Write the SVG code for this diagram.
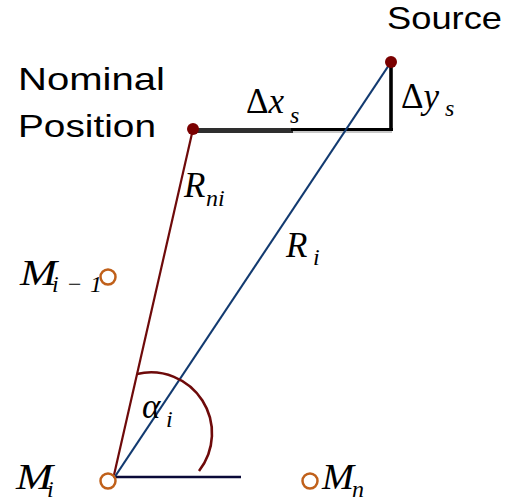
<svg xmlns="http://www.w3.org/2000/svg" width="506" height="502" viewBox="0 0 506 502">
<style>
.lbl{font-family:"Liberation Sans","DejaVu Sans",sans-serif;font-size:32px;fill:#000}
.m{font-family:"Liberation Serif","DejaVu Serif",serif;font-style:italic;font-size:35px;fill:#000}
.up{font-style:normal}
.sub{font-family:"Liberation Serif","DejaVu Serif",serif;font-style:italic;font-size:24px;fill:#000}
.pt{fill:#7a0000}
.obs{fill:none;stroke:#c0601a;stroke-width:2.5}
</style>
<rect width="506" height="502" fill="#fff"/>
<g id="connectors">
  <line x1="193" y1="130.5" x2="293" y2="130.5" stroke="#2e2e2e" stroke-width="5"/>
  <line x1="293" y1="132" x2="392" y2="132" stroke="#c8c8c8" stroke-width="2"/>
  <line x1="291" y1="129.5" x2="393" y2="129.5" stroke="#000" stroke-width="3.2"/>
  <line x1="391" y1="62" x2="391" y2="131" stroke="#000" stroke-width="3.6"/>
  <line x1="193" y1="129" x2="114" y2="475" stroke="#6e0a0a" stroke-width="2.2"/>
  <line x1="391" y1="62" x2="114" y2="478" stroke="#123a70" stroke-width="2.2"/>
  <line x1="116" y1="477" x2="241" y2="477" stroke="#0a0a38" stroke-width="2.4"/>
  <path d="M137,374 A61,61 0 0 1 199,471" fill="none" stroke="#6e0a0a" stroke-width="2.6"/>
</g>
<g id="source">
  <circle class="pt" cx="391" cy="62" r="6"/>
  <text class="lbl" x="387" y="29" textLength="115" lengthAdjust="spacingAndGlyphs">Source</text>
</g>
<g id="nominal">
  <circle class="pt" cx="193" cy="129" r="6"/>
  <text class="lbl" x="18" y="90" textLength="147" lengthAdjust="spacingAndGlyphs">Nominal</text>
  <text class="lbl" x="18" y="137" textLength="138" lengthAdjust="spacingAndGlyphs">Position</text>
</g>
<g id="dx">
  <text class="m" x="246" y="113"><tspan class="up">Δ</tspan>x</text>
  <text class="sub" x="290" y="123">s</text>
</g>
<g id="dy">
  <text class="m" x="401" y="108"><tspan class="up">Δ</tspan>y</text>
  <text class="sub" x="445" y="116">s</text>
</g>
<g id="rni">
  <text class="m" x="184" y="197">R</text>
  <text class="sub" x="206" y="206">ni</text>
</g>
<g id="ri">
  <text class="m" x="286" y="257">R</text>
  <text class="sub" x="313" y="265">i</text>
</g>
<g id="alpha">
  <text class="m" x="142" y="418">α</text>
  <text class="sub" x="166" y="427">i</text>
</g>
<g id="m-prev">
  <text class="m" x="20" y="285" textLength="37" lengthAdjust="spacingAndGlyphs">M</text>
  <text class="sub" x="52" y="292" textLength="50" lengthAdjust="spacing">i−1</text>
  <circle class="obs" cx="108" cy="277" r="7.5"/>
</g>
<g id="m-i">
  <text class="m" x="16" y="489" textLength="37" lengthAdjust="spacingAndGlyphs">M</text>
  <text class="sub" x="47" y="497">i</text>
  <circle class="obs" cx="108" cy="481" r="7.5"/>
</g>
<g id="m-n">
  <circle class="obs" cx="310" cy="481" r="7.5"/>
  <text class="m" x="322" y="489" textLength="32" lengthAdjust="spacingAndGlyphs">M</text>
  <text class="sub" x="352" y="497">n</text>
</g>
</svg>
